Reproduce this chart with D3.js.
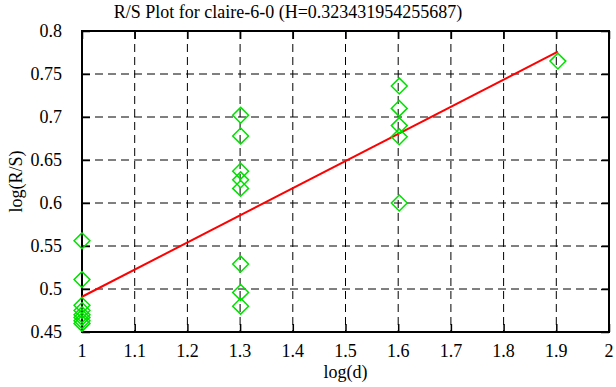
<!DOCTYPE html>
<meta charset="utf-8">
<style>
body { margin: 0; background: #fff; }
text { font-family: "Liberation Serif", "Times New Roman", Times, "DejaVu Serif", serif; fill: #000; }
</style>
<body>
<svg id="chart" width="616" height="387"></svg>
<script src="https://d3js.org/d3.v7.min.js"></script>
<script>
// R/S points: log(d) and log(R/S)
var logD = [1, 1, 1, 1, 1, 1, 1, 1,
            1.301, 1.301, 1.301, 1.301, 1.301, 1.301, 1.301, 1.301,
            1.602, 1.602, 1.602, 1.602, 1.602,
            1.903];
var logRS = [0.556, 0.511, 0.481, 0.475, 0.470, 0.467, 0.463, 0.460,
             0.702, 0.678, 0.637, 0.627, 0.617, 0.529, 0.496, 0.480,
             0.736, 0.710, 0.690, 0.677, 0.600,
             0.765];
var hurst = 0.323431954255687;
// fitted line end points as drawn
var fitX = [1, 1.903];
var fitY = [0.491, 0.776];
var xTicks = [1, 1.1, 1.2, 1.3, 1.4, 1.5, 1.6, 1.7, 1.8, 1.9, 2];
var yTicks = [0.45, 0.5, 0.55, 0.6, 0.65, 0.7, 0.75, 0.8];

var pLeft = 82, pRight = 609, pTop = 31, pBottom = 332;
var svg = d3.select("#chart");
var x = d3.scaleLinear().domain([1, 2]).range([pLeft, pRight]);
var y = d3.scaleLinear().domain([0.45, 0.8]).range([pBottom, pTop]);

// dashed grid
svg.append("g").selectAll("line").data(xTicks.slice(1, -1)).enter().append("line")
  .attr("x1", d => x(d)).attr("x2", d => x(d)).attr("y1", pTop).attr("y2", pBottom)
  .attr("stroke", "#000").attr("stroke-dasharray", "8,5");
svg.append("g").selectAll("line").data(yTicks.slice(1, -1)).enter().append("line")
  .attr("y1", d => y(d)).attr("y2", d => y(d)).attr("x1", pLeft).attr("x2", pRight)
  .attr("stroke", "#000").attr("stroke-dasharray", "8,5");

// axes with inward ticks on all four sides
function noDomain(g) { g.select(".domain").remove(); g.selectAll("text").remove(); }
svg.append("g").attr("transform", "translate(0," + pBottom + ")")
  .call(d3.axisTop(x).tickValues(xTicks).tickSize(8)).call(noDomain);
svg.append("g").attr("transform", "translate(0," + pTop + ")")
  .call(d3.axisBottom(x).tickValues(xTicks).tickSize(8)).call(noDomain);
svg.append("g").attr("transform", "translate(" + pLeft + ",0)")
  .call(d3.axisRight(y).tickValues(yTicks).tickSize(8)).call(noDomain);
svg.append("g").attr("transform", "translate(" + pRight + ",0)")
  .call(d3.axisLeft(y).tickValues(yTicks).tickSize(8)).call(noDomain);
svg.selectAll(".tick line").attr("stroke", "#000").attr("stroke-width", 1.5);

// tick labels
svg.append("g").selectAll("text").data(xTicks).enter().append("text")
  .attr("x", d => x(d)).attr("y", 357).attr("text-anchor", "middle")
  .style("font-size", "18px").text(d => d3.format("~g")(d));
svg.append("g").selectAll("text").data(yTicks).enter().append("text")
  .attr("x", 62).attr("y", d => y(d) + 6).attr("text-anchor", "end")
  .style("font-size", "18px").text(d => d3.format("~g")(d));

// frame
svg.append("rect").attr("x", pLeft).attr("y", pTop)
  .attr("width", pRight - pLeft).attr("height", pBottom - pTop)
  .attr("fill", "none").attr("stroke", "#000").attr("stroke-width", 2);

// fitted line
svg.append("line")
  .attr("x1", x(fitX[0])).attr("y1", y(fitY[0]))
  .attr("x2", x(fitX[1])).attr("y2", y(fitY[1]))
  .attr("stroke", "#ff0000").attr("stroke-width", 2);

// points as diamonds
var pts = d3.range(logD.length).map(i => [logD[i], logRS[i]]);
svg.append("g").selectAll("path").data(pts).enter().append("path")
  .attr("d", d3.symbol().type(d3.symbolDiamond2).size(160))
  .attr("transform", d => "translate(" + x(d[0]) + "," + y(d[1]) + ")")
  .attr("fill", "none").attr("stroke", "#00e000").attr("stroke-width", 1.5);

// titles
svg.append("text").attr("x", 288).attr("y", 18).attr("text-anchor", "middle")
  .style("font-size", "18px").text("R/S Plot for claire-6-0 (H=" + hurst + ")");
svg.append("text").attr("x", (pLeft + pRight) / 2).attr("y", 378).attr("text-anchor", "middle")
  .style("font-size", "18px").text("log(d)");
svg.append("text").attr("transform", "translate(22," + ((pTop + pBottom) / 2) + ") rotate(-90)")
  .attr("text-anchor", "middle").style("font-size", "18px").text("log(R/S)");
</script>
</body>
